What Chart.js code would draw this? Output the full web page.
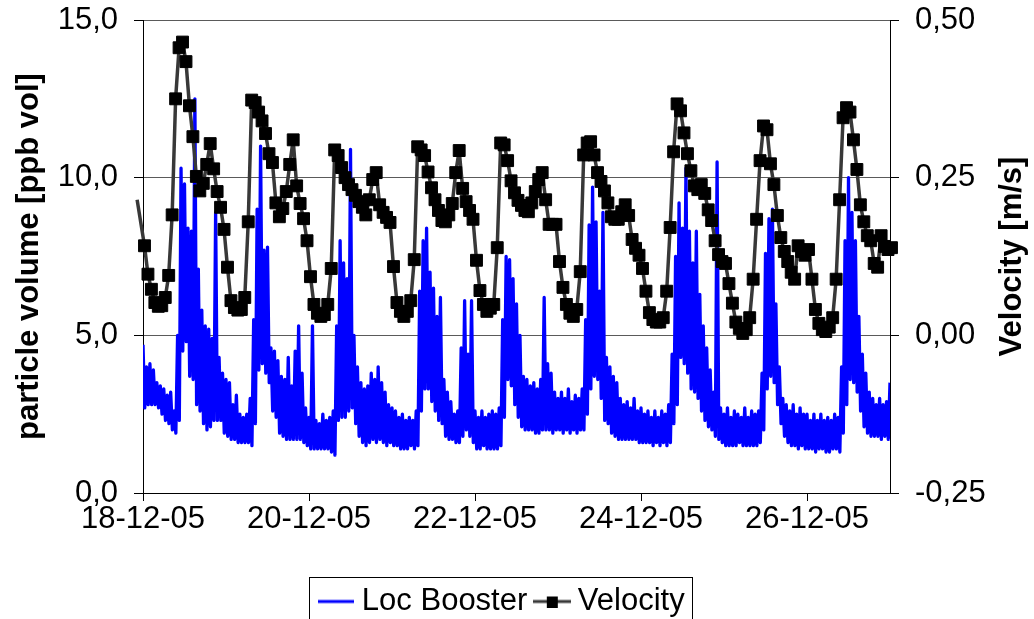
<!DOCTYPE html>
<html>
<head>
<meta charset="utf-8">
<script src="https://cdn.jsdelivr.net/npm/chart.js@4.4.1/dist/chart.umd.min.js"></script>
<style>
  html, body { margin: 0; padding: 0; background: #ffffff; }
  #wrap { width: 1034px; height: 619px; overflow: hidden; }
</style>
</head>
<body>
<div id="wrap"><canvas id="chart" width="1034" height="619"></canvas></div>
<script>
// ---------- names and labels ----------
const seriesNames = ['Loc Booster', 'Velocity'];
const axisTitles = ['particle volume [ppb vol]', 'Velocity [m/s]'];
const xTickHours = [0, 48, 96, 144, 192];
const xTickLabels = ['18-12-05', '20-12-05', '22-12-05', '24-12-05', '26-12-05'];
const X_MIN_H = 0;
const X_MAX_H = 216;

// ---------- Loc Booster (ppb vol), half-hourly readings, one array per day ----------
const BOOSTER_STEP_H = 0.5;
const locBooster18 = [4.7,2.7, 4.0,2.8, 4.1,2.8, 3.9,2.8, 3.5,2.7, 3.4,2.5, 3.3,2.3, 3.1,2.2, 3.2,2.0, 2.6,1.9, 5.0,2.3, 10.3,4.5, 9.8,4.8, 8.4,3.7, 8.3,3.6, 12.5,2.8, 7.1,2.6, 5.8,2.2, 5.3,2.0, 5.2,2.1, 4.9,2.3, 8.9,2.3, 4.3,2.3, 3.8,1.9];
const locBooster19 = [3.6,1.8, 3.5,1.7, 2.8,1.7, 3.1,1.6, 2.5,1.6, 2.4,1.6, 2.5,1.6, 3.0,1.5, 5.5,2.2, 9.0,3.9, 11.0,4.1, 7.7,3.8, 7.8,3.5, 4.6,2.6, 4.5,2.4, 4.2,1.9, 3.7,1.8, 3.6,1.7, 4.3,1.7, 3.4,1.7, 4.5,1.7, 5.3,1.7, 3.8,1.6, 2.7,1.5];
const locBooster20 = [2.4,1.4, 5.3,1.4, 2.3,1.4, 2.2,1.4, 2.5,1.4, 2.3,1.4, 2.4,1.3, 2.6,1.2, 5.3,2.3, 8.0,2.4, 7.3,2.4, 6.8,2.6, 10.9,2.7, 5.0,2.2, 4.0,1.8, 3.5,1.6, 3.3,1.5, 3.4,1.6, 3.8,1.7, 3.6,1.6, 4.0,1.7, 3.5,1.6, 3.2,1.5, 2.8,1.6];
const locBooster21 = [2.7,1.5, 2.6,1.5, 2.4,1.4, 2.5,1.4, 2.3,1.4, 2.4,1.5, 2.3,1.4, 2.6,1.5, 6.4,2.6, 8.0,3.3, 8.4,3.3, 7.0,2.9, 6.5,2.6, 5.6,2.3, 6.2,2.2, 3.6,1.8, 3.2,1.7, 2.9,1.7, 2.5,1.6, 2.6,1.6, 4.6,1.8, 6.1,2.0, 4.4,1.8, 6.1,1.6];
const locBooster22 = [2.6,1.4, 2.4,1.4, 2.6,1.5, 2.4,1.4, 2.5,1.4, 2.6,1.4, 2.5,1.4, 2.7,1.5, 5.5,2.4, 7.5,3.6, 7.4,3.4, 6.8,2.8, 6.0,2.4, 5.0,2.1, 3.7,2.0, 3.6,2.0, 3.4,2.0, 3.5,1.9, 3.3,1.9, 3.6,2.0, 6.2,2.0, 4.1,2.0, 3.8,1.9, 3.2,2.0];
const locBooster23 = [3.0,2.0, 3.2,1.9, 3.0,2.0, 3.3,1.9, 2.9,2.0, 3.1,1.9, 3.0,2.0, 3.3,2.0, 5.5,2.5, 8.5,3.3, 9.7,3.7, 8.6,3.6, 6.4,3.0, 8.9,2.3, 4.3,2.2, 4.0,1.9, 3.7,1.8, 3.5,1.7, 3.0,1.7, 2.8,1.7, 2.9,1.7, 2.7,1.7, 3.0,1.7, 2.6,1.6];
const locBooster24 = [2.7,1.6, 2.5,1.6, 2.6,1.6, 2.4,1.5, 2.6,1.6, 2.4,1.5, 2.6,1.6, 2.5,1.5, 2.8,1.6, 4.4,2.2, 7.5,2.8, 9.2,4.3, 8.4,4.1, 10.3,3.8, 8.3,3.3, 7.3,3.2, 8.3,3.0, 6.3,2.6, 5.3,2.3, 4.6,2.1, 3.9,2.0, 3.2,1.8, 10.5,1.7, 2.7,1.6];
const locBooster25 = [2.5,1.5, 2.7,1.5, 2.4,1.5, 2.6,1.5, 2.5,1.6, 2.4,1.5, 2.7,1.5, 2.4,1.5, 2.6,1.5, 2.5,1.5, 2.6,1.6, 3.8,2.0, 7.6,3.3, 8.7,3.7, 9.0,3.5, 6.0,2.8, 4.0,2.2, 3.0,1.8, 2.8,1.6, 2.6,1.5, 2.8,1.5, 2.5,1.4, 2.7,1.5, 2.5,1.4];
const locBooster26 = [2.5,1.4, 2.3,1.4, 2.5,1.3, 2.3,1.4, 2.5,1.4, 2.3,1.3, 2.4,1.3, 2.3,1.4, 2.5,1.4, 2.4,1.3, 4.0,1.9, 8.0,2.8, 10.0,3.6, 8.9,3.5, 8.0,3.2, 5.6,2.6, 4.4,2.1, 3.8,1.9, 3.2,1.8, 3.0,1.8, 2.8,1.8, 3.0,1.7, 2.8,1.8, 2.9,1.7];
const locBoosterEnd = [3.5];

// ---------- Velocity (m/s), hourly readings, one array per day ----------
const VELOCITY_START_H = 0.43;
const VELOCITY_STEP_H = 1;
const velocity18 = [0.142, 0.097, 0.073, 0.052, 0.046, 0.047, 0.060, 0.095, 0.191, 0.375, 0.456, 0.465, 0.434, 0.364, 0.315, 0.252, 0.229, 0.241, 0.271, 0.304, 0.264, 0.228, 0.203, 0.168];
const velocity19 = [0.108, 0.055, 0.044, 0.040, 0.041, 0.060, 0.180, 0.373, 0.369, 0.354, 0.340, 0.320, 0.288, 0.274, 0.210, 0.188, 0.201, 0.228, 0.271, 0.310, 0.237, 0.209, 0.185, 0.150];
const velocity20 = [0.093, 0.049, 0.035, 0.030, 0.033, 0.049, 0.106, 0.294, 0.285, 0.266, 0.250, 0.239, 0.231, 0.222, 0.212, 0.203, 0.191, 0.215, 0.247, 0.258, 0.207, 0.195, 0.187, 0.179];
const velocity21 = [0.109, 0.052, 0.038, 0.030, 0.038, 0.055, 0.120, 0.299, 0.294, 0.285, 0.259, 0.234, 0.215, 0.198, 0.182, 0.180, 0.191, 0.209, 0.258, 0.293, 0.233, 0.212, 0.198, 0.184];
const velocity22 = [0.119, 0.071, 0.049, 0.038, 0.043, 0.049, 0.139, 0.305, 0.302, 0.277, 0.245, 0.226, 0.214, 0.206, 0.198, 0.196, 0.210, 0.228, 0.247, 0.258, 0.215, 0.176, 0.176, 0.176];
const velocity23 = [0.117, 0.076, 0.049, 0.035, 0.030, 0.041, 0.101, 0.286, 0.305, 0.307, 0.286, 0.258, 0.244, 0.229, 0.210, 0.188, 0.184, 0.184, 0.196, 0.207, 0.190, 0.152, 0.138, 0.127];
const velocity24 = [0.106, 0.070, 0.036, 0.025, 0.021, 0.021, 0.028, 0.070, 0.171, 0.291, 0.367, 0.356, 0.321, 0.288, 0.261, 0.237, 0.231, 0.239, 0.225, 0.199, 0.182, 0.150, 0.128, 0.117];
const velocity25 = [0.114, 0.082, 0.051, 0.021, 0.011, 0.003, 0.009, 0.028, 0.089, 0.184, 0.277, 0.332, 0.326, 0.272, 0.239, 0.190, 0.155, 0.133, 0.117, 0.100, 0.089, 0.142, 0.133, 0.127];
const velocity26 = [0.136, 0.089, 0.041, 0.019, 0.009, 0.006, 0.013, 0.028, 0.089, 0.215, 0.345, 0.361, 0.354, 0.310, 0.263, 0.207, 0.180, 0.158, 0.150, 0.114, 0.108, 0.158, 0.141, 0.136];
const velocityEnd = [0.139];
// line continues just past both ends of the time axis (no marker there)
const velocityEdgeHours = [-1.7, 218.05];
const velocityEdgeValues = [0.215, 0.025];

// ---------- build library tables ----------
const boosterValues = [locBooster18, locBooster19, locBooster20, locBooster21, locBooster22,
  locBooster23, locBooster24, locBooster25, locBooster26, locBoosterEnd].flat();
const boosterData = boosterValues.map((v, i) => ({ x: i * BOOSTER_STEP_H, y: v }));

const velocityValues = [velocity18, velocity19, velocity20, velocity21, velocity22,
  velocity23, velocity24, velocity25, velocity26, velocityEnd].flat();
const velocityData = [{ x: velocityEdgeHours[0], y: velocityEdgeValues[0] }]
  .concat(velocityValues.map((v, i) => ({ x: VELOCITY_START_H + i * VELOCITY_STEP_H, y: v })))
  .concat([{ x: velocityEdgeHours[1], y: velocityEdgeValues[1] }]);

// ---------- styling ----------
const FONT = '"Liberation Sans", Arial, Helvetica, sans-serif';
const BLUE = '#0000ff';
const VEL_LINE = '#383838';
const LEGEND_SHIFT = 12;

function legendSample(w, h, color, lw, marker) {
  const c = document.createElement('canvas');
  c.width = w; c.height = h;
  const g = c.getContext('2d');
  g.strokeStyle = color; g.lineWidth = lw;
  g.beginPath(); g.moveTo(0, h / 2); g.lineTo(w, h / 2); g.stroke();
  if (marker) {
    g.fillStyle = '#000';
    g.fillRect(Math.round(w / 2 - marker / 2), Math.round(h / 2 - marker / 2), marker, marker);
  }
  return c;
}
const boosterSample = legendSample(36, 6, BLUE, 3, 0);
const velocitySample = legendSample(38, 12, VEL_LINE, 3, 11);

const decorations = {
  id: 'decorations',
  afterLayout(chart) {
    const lg = chart.legend;
    if (lg) { lg.left -= LEGEND_SHIFT; lg.right -= LEGEND_SHIFT; }
  },
  afterDraw(chart) {
    const g = chart.ctx;
    const lg = chart.legend;
    g.save();
    if (lg && lg.legendHitBoxes && lg.legendHitBoxes.length) {
      const hb = lg.legendHitBoxes;
      const last = hb[hb.length - 1];
      const l = Math.round(hb[0].left - 16) + 0.5;
      const r = Math.round(last.left + last.width + 7) + 0.5;
      const t = Math.round(hb[0].top - 9) + 0.5;
      g.strokeStyle = '#000'; g.lineWidth = 1;
      g.strokeRect(l, t, r - l, 660 - t);
    }
    const s = chart.scales.y1;
    const ca = chart.chartArea;
    g.translate(s.right - 22, (ca.top + ca.bottom) / 2);
    g.rotate(-Math.PI / 2);
    g.font = 'bold 31px ' + FONT;
    g.fillStyle = '#000';
    g.textAlign = 'center';
    g.textBaseline = 'middle';
    g.fillText(axisTitles[1], 0, 0);
    g.restore();
  }
};

Chart.defaults.font.family = FONT;

new Chart(document.getElementById('chart').getContext('2d'), {
  type: 'line',
  data: {
    datasets: [
      {
        label: seriesNames[0], data: boosterData, yAxisID: 'y',
        borderColor: BLUE, backgroundColor: BLUE, borderWidth: 3.3,
        borderJoinStyle: 'round', pointRadius: 0, tension: 0, order: 2
      },
      {
        label: seriesNames[1], data: velocityData, yAxisID: 'y1',
        borderColor: VEL_LINE, backgroundColor: '#000', borderWidth: 3.5,
        borderJoinStyle: 'round', tension: 0, order: 1,
        pointStyle: 'rect',
        pointRadius: (c) => (c.raw && (c.raw.x < X_MIN_H || c.raw.x > X_MAX_H + 1)) ? 0 : 8.4,
        pointBackgroundColor: '#000', pointBorderColor: '#000', pointBorderWidth: 1,
        clip: { left: 8, right: 10, top: 10, bottom: 10 }
      }
    ]
  },
  options: {
    responsive: false,
    devicePixelRatio: 1,
    animation: false,
    events: [],
    layout: { padding: { top: 20, left: 0, right: 0, bottom: -8 } },
    plugins: {
      tooltip: { enabled: false },
      legend: {
        display: true,
        position: 'bottom',
        labels: {
          usePointStyle: true,
          pointStyleWidth: 21,
          padding: 14,
          color: '#000',
          font: { size: 31, family: FONT },
          generateLabels: () => [
            { text: seriesNames[0], datasetIndex: 0, pointStyle: boosterSample, fillStyle: BLUE, strokeStyle: BLUE, lineWidth: 0, hidden: false, fontColor: '#000' },
            { text: seriesNames[1], datasetIndex: 1, pointStyle: velocitySample, fillStyle: '#000', strokeStyle: '#000', lineWidth: 0, hidden: false, fontColor: '#000' }
          ]
        }
      }
    },
    scales: {
      x: {
        type: 'linear', position: 'bottom', min: X_MIN_H, max: X_MAX_H,
        afterBuildTicks: (s) => { s.ticks = xTickHours.map(v => ({ value: v })); },
        afterFit: (s) => { s.height = 79; },
        ticks: {
          callback: (v) => { const i = xTickHours.indexOf(v); return i >= 0 ? xTickLabels[i] : ''; },
          font: { size: 31, family: FONT }, color: '#000', padding: 0,
          maxRotation: 0, minRotation: 0, autoSkip: false
        },
        grid: { drawOnChartArea: false, drawTicks: true, tickLength: 8, color: '#000', tickColor: '#000' },
        border: { display: true, color: '#000', width: 1 }
      },
      y: {
        position: 'left', min: 0, max: 15,
        afterFit: (s) => { s.width = 143; s.paddingTop = 10; s.paddingBottom = 10; },
        ticks: {
          stepSize: 5,
          callback: (v) => Number(v).toFixed(1).replace('.', ','),
          font: { size: 31, family: FONT }, color: '#000', padding: 16
        },
        grid: { drawOnChartArea: true, color: '#5a5a5a', lineWidth: 1, drawTicks: true, tickLength: 9, tickColor: '#000' },
        border: { display: true, color: '#000', width: 1 },
        title: {
          display: true, text: axisTitles[0], color: '#000',
          font: { size: 31, weight: 'bold', family: FONT },
          padding: { top: 11, bottom: 0 }
        }
      },
      y1: {
        position: 'right', min: -0.25, max: 0.5,
        afterFit: (s) => { s.width = 144; s.paddingTop = 10; s.paddingBottom = 10; },
        ticks: {
          stepSize: 0.25,
          callback: (v) => Number(v).toFixed(2).replace('.', ','),
          font: { size: 31, family: FONT }, color: '#000', padding: 16
        },
        grid: { drawOnChartArea: false, drawTicks: true, tickLength: 9, color: '#000', tickColor: '#000' },
        border: { display: true, color: '#000', width: 1 },
        title: { display: false, text: axisTitles[1] }
      }
    }
  },
  plugins: [decorations]
});
</script>
</body>
</html>
